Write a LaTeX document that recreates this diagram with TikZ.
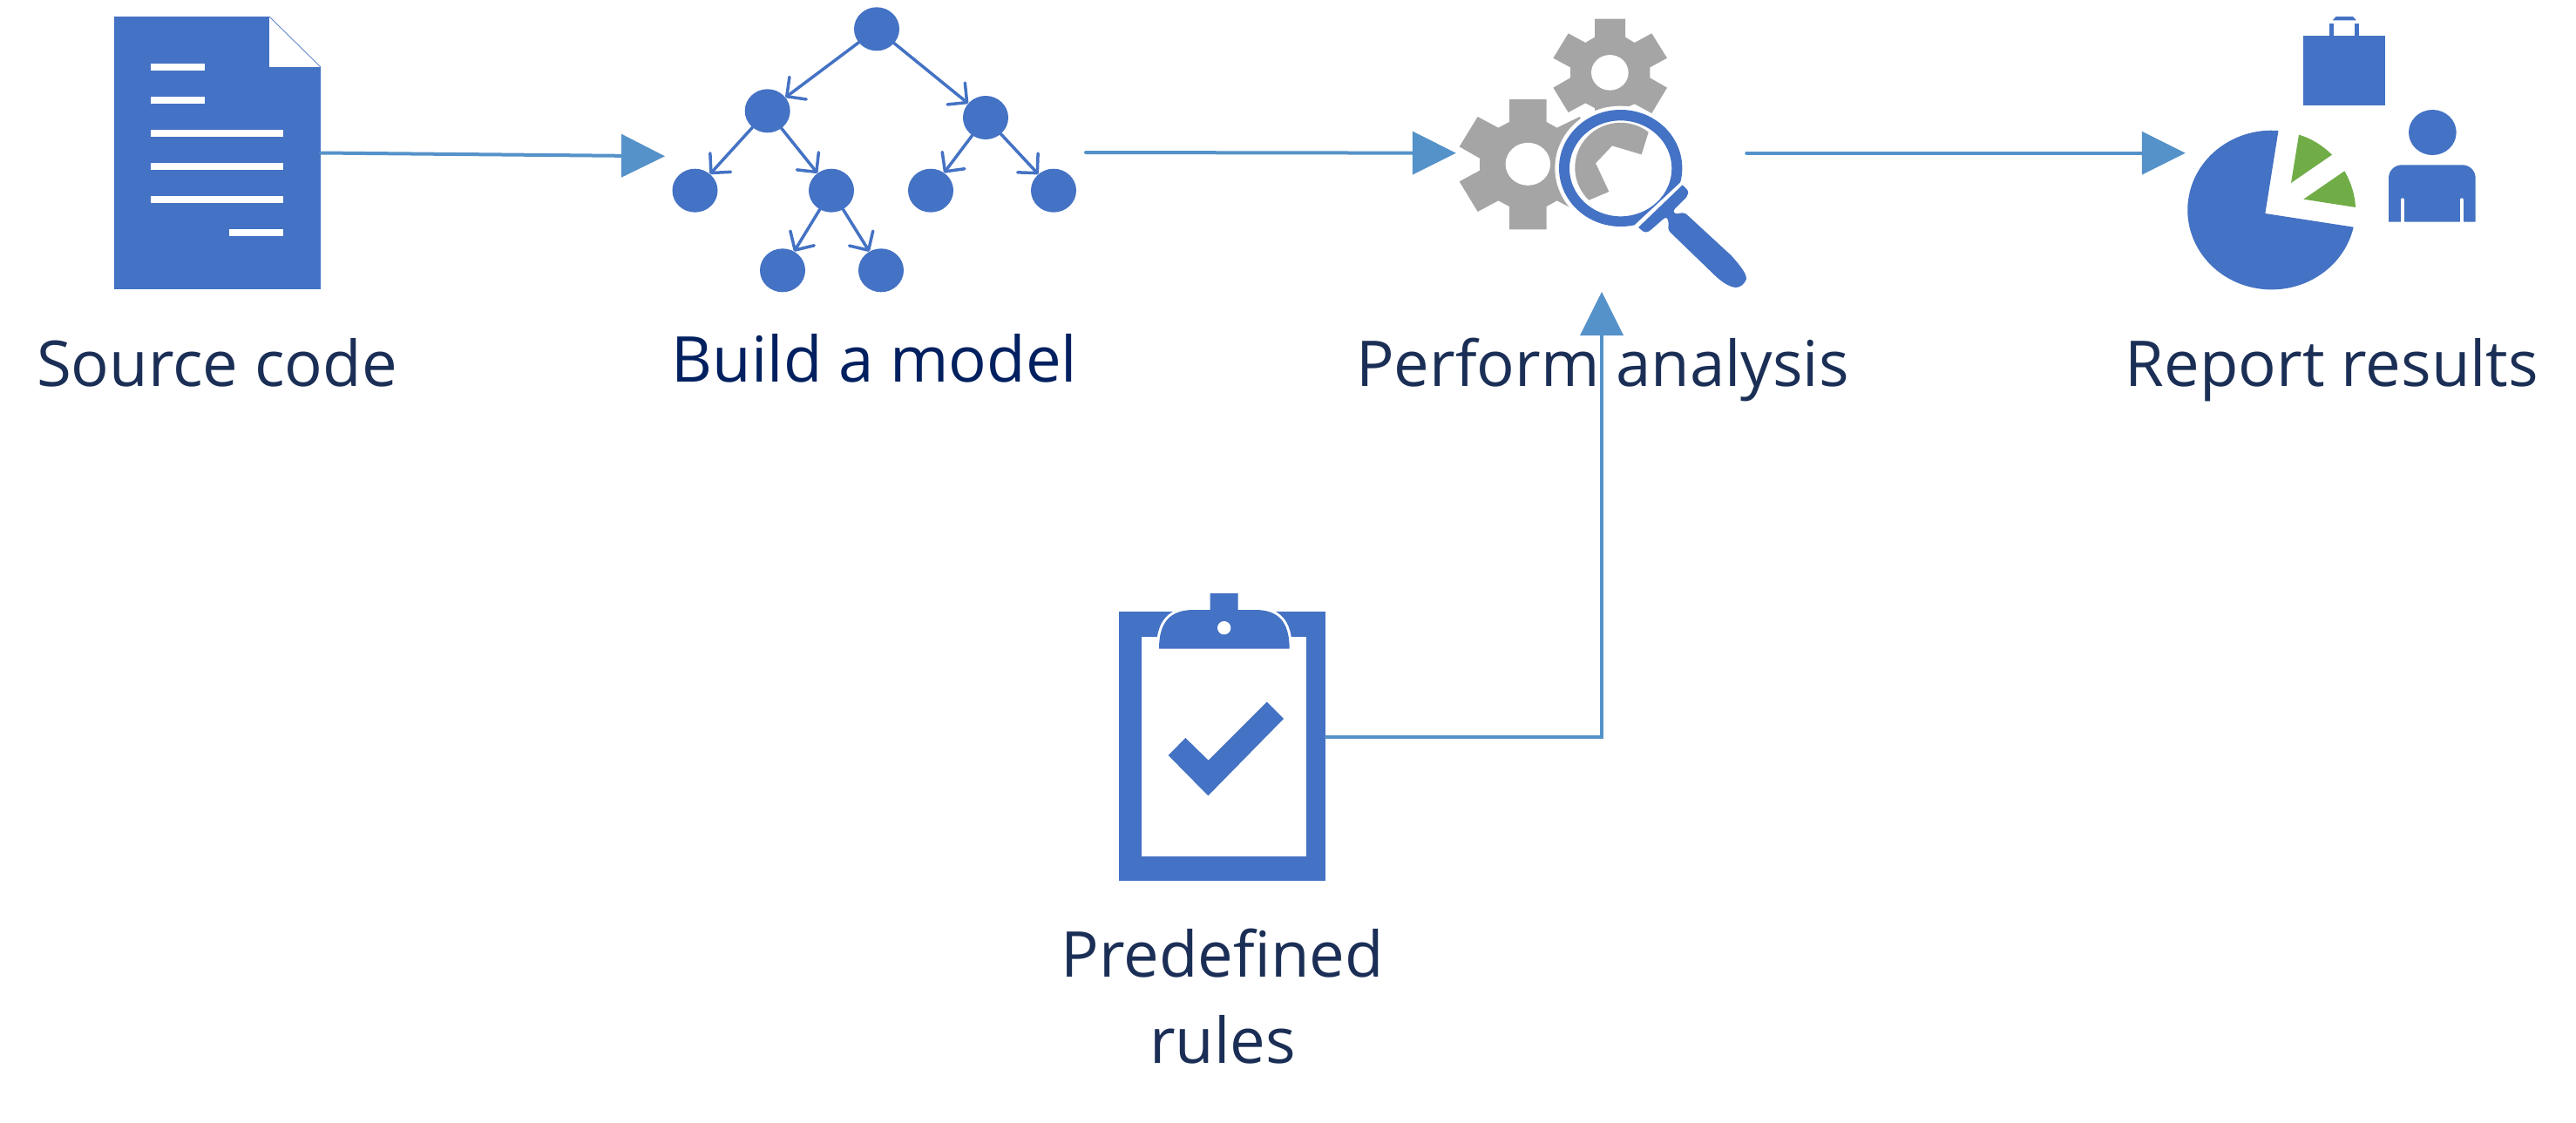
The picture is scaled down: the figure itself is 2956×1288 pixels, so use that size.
\documentclass[tikz,border=0pt]{standalone}
\usepackage{fontspec}
\setmainfont{Open Sans}
\usetikzlibrary{arrows.meta,shapes.geometric}
\definecolor{iconblue}{HTML}{4472C4}
\definecolor{arrowblue}{HTML}{5592C9}
\definecolor{geargray}{HTML}{A5A5A5}
\definecolor{piegreen}{HTML}{70AD47}
\definecolor{labelnavy}{HTML}{1B2F56}
\definecolor{labeldark}{HTML}{002060}
\tikzset{
  flow/.style={draw=arrowblue,line width=4pt,line cap=round,-{Triangle[length=50pt,width=50pt,fill=arrowblue,line width=0pt]}},
  treenode/.style={shape=ellipse,fill=iconblue,inner sep=0pt,minimum width=52pt,minimum height=50pt},
  treeedge/.style={draw=iconblue,line width=3.5pt,line cap=round,-{Straight Barb[length=16pt,width=32pt,round,line width=3.5pt]}},
  label/.style={text=labelnavy,anchor=base,inner sep=0pt},
  box/.style={shape=rectangle,inner sep=0pt}
}
\begin{document}
\begin{tikzpicture}[x=1pt,y=-1pt,font=\fontsize{72.5}{99}\selectfont]
\useasboundingbox (0,0) rectangle (2956,1288);
\fill[white] (0,0) rectangle (2956,1288);

% Source document
\node[box,fill=iconblue,minimum width=237pt,minimum height=313pt] (doc) at (249.5,175.5) {};
\fill[white] (309,18) -- (369,18) -- (369,77) -- (309,77) -- cycle;
\draw[iconblue,line width=0.7pt] (309,19) -- (368,77);
\fill[white] (173,73) rectangle (235,81);
\fill[white] (173,111) rectangle (235,119);
\fill[white] (173,149) rectangle (325,157);
\fill[white] (173,187) rectangle (325,195);
\fill[white] (173,225) rectangle (325,233);
\fill[white] (263,263) rectangle (325,271);

% Tree
\node[treenode] (root) at (1006,33.3) {};
\node[treenode] (nl) at (880.7,127.3) {};
\node[treenode] (nr) at (1131,135) {};
\node[treenode] (nll) at (797.5,218.7) {};
\node[treenode] (nlr) at (954,218.7) {};
\node[treenode] (nrl) at (1068,218.7) {};
\node[treenode] (nrr) at (1209,218.7) {};
\node[treenode] (nlrl) at (898,310.3) {};
\node[treenode] (nlrr) at (1011,310.3) {};
\draw[treeedge] (root) -- (nl);
\draw[treeedge] (root) -- (nr);
\draw[treeedge] (nl) -- (nll);
\draw[treeedge] (nl) -- (nlr);
\draw[treeedge] (nr) -- (nrl);
\draw[treeedge] (nr) -- (nrr);
\draw[treeedge] (nlr) -- (nlrl);
\draw[treeedge] (nlr) -- (nlrr);

% Gears and magnifier (coordinates of a 3x crop)
\begin{scope}[shift={(1620,0)},x=0.33333pt,y=-0.33333pt]
  \fill[geargray] (630,65) -- (735,65) -- (735,128) -- (767,147) -- (826,115) -- (879,200) -- (820,232) -- (820,268) -- (879,302) -- (826,390) -- (767,358) -- (735,372) -- (735,435) -- (630,435) -- (630,372) -- (598,355) -- (539,387) -- (487,302) -- (546,268) -- (546,232) -- (487,200) -- (539,115) -- (598,147) -- (630,128) -- cycle;
  \fill[white] (682,250) ellipse [x radius=21.3pt,y radius=20.3pt];
  \fill[geargray] (336,342) -- (464,342) -- (464,420) -- (500,440) -- (578,402) -- (636,505) -- (566,545) -- (566,587) -- (636,625) -- (573,729) -- (500,691) -- (464,711) -- (464,790) -- (336,790) -- (336,711) -- (298,691) -- (227,729) -- (164,625) -- (234,587) -- (234,545) -- (164,505) -- (227,402) -- (298,440) -- (336,420) -- cycle;
  \fill[white] (400,565) ellipse [x radius=25.7pt,y radius=24.5pt];
  \fill[white] (717,579) ellipse [x radius=74.67pt,y radius=71.33pt];
  \begin{scope}
    \clip (1002,556) -- (692,844) -- (300,844) -- (300,200) -- (1002,200) -- cycle;
    \fill[iconblue,even odd rule] (719,579) ellipse [x radius=70.67pt,y radius=67pt] (719,580) ellipse [x radius=58.67pt,y radius=55pt];
  \end{scope}
  \fill[geargray] (815,455) arc [start angle=52.2,end angle=226.1,x radius=52.33pt,y radius=51.67pt] -- (679,660) -- (633,562) -- (690,502) -- (791,532) -- cycle;
  \fill[iconblue] (932,637) -- (948,653) .. controls (955,662) and (950,672) .. (945,680) -- (905,720) .. controls (897,730) and (905,736) .. (915,736) -- (930,733) .. controls (938,733) and (942,735) .. (946,738) -- (1100,880) .. controls (1140,925) and (1152,945) .. (1152,960) .. controls (1145,980) and (1130,990) .. (1115,990) .. controls (1090,988) and (1060,965) .. (1040,945) -- (890,800) .. controls (880,790) and (884,780) .. (884,770) .. controls (884,750) and (875,745) .. (865,755) -- (825,790) .. controls (810,803) and (803,800) .. (797,797) -- (780,783) -- cycle;
\end{scope}
\node[box,minimum width=333pt,minimum height=319pt] (gears) at (1837.5,175.7) {};

% Report icons
\begin{scope}[shift={(2440,0)},x=0.33333pt,y=-0.33333pt]
  \fill[iconblue] (610,123) rectangle (890,362);
  \fill[iconblue] (699,82) rectangle (713,124);
  \fill[iconblue] (787,82) rectangle (802,124);
  \fill[iconblue] (722,57) -- (780,57) -- (792,70) -- (710,70) -- cycle;
  \fill[iconblue] (1054,456) ellipse [x radius=27.33pt,y radius=26pt];
  \fill[iconblue] (903,764) [rounded corners=15pt] -- (903,568) -- (1202,568) [sharp corners] -- (1202,764) -- cycle;
  \draw[white,line width=4pt,line cap=round] (950,770) -- (950,688);
  \draw[white,line width=4pt,line cap=round] (1154,770) -- (1154,688);
  \fill[iconblue] (478,735) -- (782,782) arc [start angle=-12.4,end angle=-274.7,x radius=96.33pt,y radius=91.33pt] -- cycle;
  \fill[piegreen] (567,630) -- (594,464) .. controls (635,476) and (675,500) .. (708,533) -- cycle;
  \fill[piegreen] (610,686) -- (751,589) .. controls (773,627) and (787,670) .. (789,714) -- cycle;
\end{scope}
\node[box,minimum width=333pt,minimum height=313pt] (report) at (2674.5,175.7) {};

% Clipboard
\node[box,fill=iconblue,minimum width=237.3pt,minimum height=309pt] (clip) at (1402.7,856.8) {};
\begin{scope}[shift={(1260,660)},x=0.33333pt,y=-0.33333pt]
  \fill[white] (150,214) rectangle (718,968);
  \draw[white,line width=6pt] (210,254) .. controls (210,160) and (250,120) .. (330,120) -- (540,120) .. controls (620,120) and (659,160) .. (659,254);
  \fill[iconblue] (210,254) .. controls (210,160) and (250,120) .. (330,120) -- (386,120) -- (386,63) -- (482,63) -- (482,120) -- (540,120) .. controls (620,120) and (659,160) .. (659,254) -- cycle;
  \fill[white] (434,182) ellipse [x radius=7.67pt,y radius=7.67pt];
  \fill[iconblue] (301,561) -- (380,638) -- (581,437) -- (639,495) -- (379,760) -- (242,621) -- cycle;
\end{scope}

% Connectors
\coordinate (treein) at (763,179.3);
\coordinate (treeout) at (1246,175);
\coordinate (clipout) at (1522,846);
\coordinate (gearsin) at (1838,335);
\draw[flow] (doc.east) -- (treein);
\draw[flow] (treeout) -- (gears.west);
\draw[flow] (gears.east) -- (report.west);
\draw[flow] (clipout) -| (gearsin);

% Labels
\node[label] (lsource) at (249,443) {Source code};
\node[label,text=labeldark] (lbuild) at (1003.5,438) {Build a model};
\node[label] (lperform) at (1839,443) {Perform analysis};
\node[label] (lreport) at (2676,443) {Report results};
\node[label,anchor=center,align=center] (lrules) at (1403,1144) {Predefined\\rules};
\end{tikzpicture}
\end{document}
